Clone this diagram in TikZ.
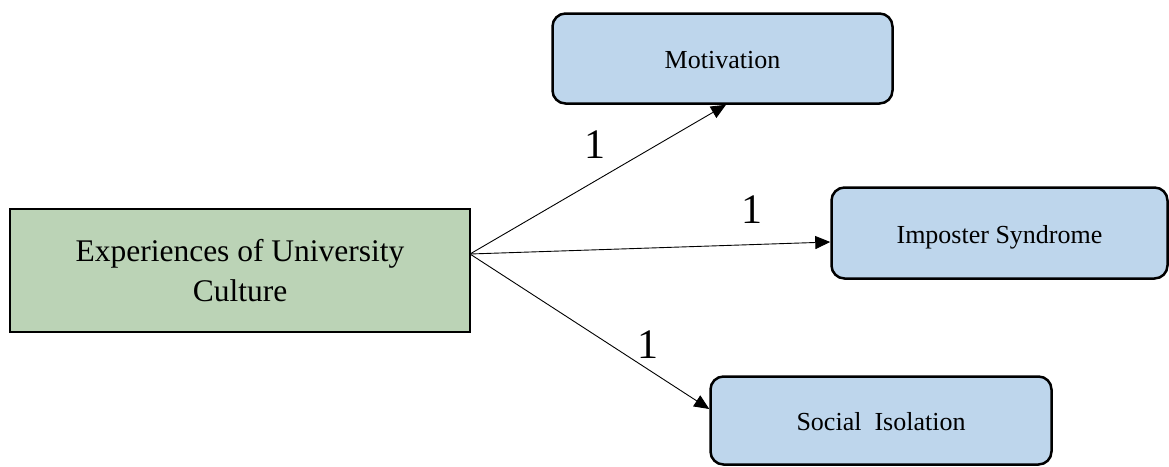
\documentclass[tikz,border=0pt]{standalone}
\usepackage{fontspec}
\setmainfont{Liberation Serif}
\usetikzlibrary{arrows.meta}
\definecolor{boxgreen}{RGB}{187,211,182}
\definecolor{boxblue}{RGB}{190,214,236}
\begin{document}
\begin{tikzpicture}[x=1pt,y=-1pt,
  mainbox/.style={draw=black, line width=2pt, fill=boxgreen, minimum width=460pt, minimum height=123pt, align=center, font=\fontsize{31.5}{40}\selectfont, inner sep=0pt},
  outbox/.style={draw=black, line width=2.5pt, fill=boxblue, rounded corners=13pt, minimum width=340pt, minimum height=90pt, font=\fontsize{26}{30}\selectfont, inner sep=0pt, text height=26pt, text depth=6pt},
  conn/.style={line width=0.9pt, -{Triangle[length=15pt,width=13pt]}},
  weight/.style={font=\fontsize{42}{42}\selectfont, inner sep=0pt}]
\useasboundingbox (0,0) rectangle (1169,466);
\node[mainbox] (exp) at (240,270.5) {Experiences of University\\[0pt]Culture};
\node[outbox] (mot) at (722.5,58.5) {Motivation};
\node[outbox, minimum width=336pt, minimum height=91pt] (imp) at (999.5,233) {Imposter Syndrome};
\node[outbox, minimum width=341pt, minimum height=88pt] (soc) at (881,420.5) {Social\ \ Isolation};
\coordinate (src) at (470,254);
\draw[conn] (src) -- ([xshift=3.5pt]mot.south);
\draw[conn] (src) -- ([yshift=-9pt]imp.west);
\draw[conn] (src) -- ([yshift=11.5pt]soc.west);
\node[weight] (w1) at (595,145) {1};
\node[weight] (w2) at (752,210) {1};
\node[weight] (w3) at (648,345) {1};
\end{tikzpicture}
\end{document}
